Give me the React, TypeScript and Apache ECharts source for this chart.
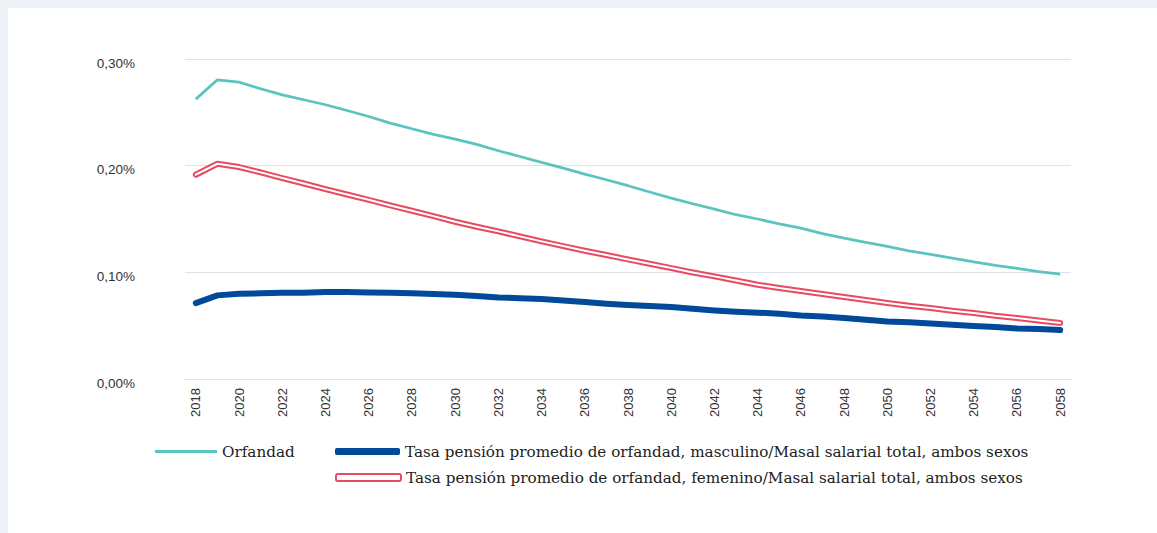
import React, { useEffect, useRef } from "react";
import * as echarts from "echarts";

const years: string[] = [];
for (let y = 2018; y <= 2058; y++) years.push(String(y));

const orfandad = [
  0.2624, 0.2805, 0.2783, 0.2721, 0.2664, 0.2618, 0.2571, 0.2517, 0.2461, 0.2399,
  0.2346, 0.2293, 0.2249, 0.2199, 0.2140, 0.2086, 0.2030, 0.1977, 0.1921, 0.1868,
  0.1812, 0.1753, 0.1696, 0.1643, 0.1593, 0.1540, 0.1500, 0.1455, 0.1415, 0.1362,
  0.1321, 0.1281, 0.1243, 0.1202, 0.1168, 0.1134, 0.1097, 0.1065, 0.1037, 0.1006,
  0.0984,
];

const masculino = [
  0.0712, 0.0784, 0.0800, 0.0803, 0.0809, 0.0809, 0.0815, 0.0815, 0.0812, 0.0809,
  0.0803, 0.0797, 0.0790, 0.0779, 0.0765, 0.0758, 0.0750, 0.0737, 0.0722, 0.0706,
  0.0693, 0.0684, 0.0675, 0.0659, 0.0643, 0.0631, 0.0622, 0.0612, 0.0596, 0.0587,
  0.0572, 0.0556, 0.0540, 0.0531, 0.0521, 0.0509, 0.0497, 0.0487, 0.0474, 0.0469,
  0.0459,
];

const femenino = [
  0.1915, 0.2018, 0.1987, 0.1937, 0.1884, 0.1833, 0.1780, 0.1730, 0.1680, 0.1627,
  0.1577, 0.1527, 0.1474, 0.1427, 0.1384, 0.1337, 0.1290, 0.1246, 0.1202, 0.1162,
  0.1121, 0.1081, 0.1040, 0.0999, 0.0962, 0.0924, 0.0884, 0.0853, 0.0825, 0.0797,
  0.0768, 0.0740, 0.0712, 0.0687, 0.0665, 0.0640, 0.0619, 0.0593, 0.0572, 0.0549,
  0.0525,
];

const NAME_ORF = "Orfandad";
const NAME_MASC =
  "Tasa pensión promedio de orfandad, masculino/Masal salarial total, ambos sexos";
const NAME_FEM =
  "Tasa pensión promedio de orfandad, femenino/Masal salarial total, ambos sexos";

const TEAL = "#5bc4c1";
const BLUE = "#004a98";
const RED = "#e84a5f";

export default function App() {
  const ref = useRef<HTMLDivElement>(null);

  useEffect(() => {
    if (!ref.current) return;
    const chart = echarts.init(ref.current, undefined, { renderer: "svg" });
    const legendText = {
      fontFamily: "DejaVu Serif",
      fontSize: 15.2,
      color: "#222",
    };
    chart.setOption({
      animation: false,
      backgroundColor: "#ffffff",
      grid: { left: 177, right: 86, top: 51, bottom: 154, containLabel: false },
      legend: [
        {
          data: [{ name: NAME_ORF, icon: "rect", itemStyle: { color: TEAL } }],
          left: 147,
          top: 436,
          padding: 0,
          itemWidth: 62,
          itemHeight: 3,
          textStyle: legendText,
          selectedMode: false,
        },
        {
          data: [
            { name: NAME_MASC, icon: "roundRect", itemStyle: { color: BLUE } },
          ],
          left: 327,
          top: 436,
          padding: 0,
          itemWidth: 65,
          itemHeight: 7,
          textStyle: legendText,
          selectedMode: false,
        },
        {
          data: [
            {
              name: NAME_FEM,
              icon: "roundRect",
              itemStyle: { color: "#ffffff", borderColor: RED, borderWidth: 2 },
            },
          ],
          left: 327,
          top: 462,
          padding: 0,
          itemWidth: 65,
          itemHeight: 7,
          textStyle: legendText,
          selectedMode: false,
        },
      ],
      xAxis: {
        type: "category",
        data: years,
        boundaryGap: true,
        axisLine: { show: true, lineStyle: { color: "#dde3ec", width: 1 } },
        axisTick: { show: false },
        axisLabel: {
          rotate: 90,
          interval: 1,
          margin: 9,
          fontFamily: "Liberation Sans",
          fontSize: 13,
          color: "#333",
        },
      },
      yAxis: {
        type: "value",
        min: 0,
        max: 0.3,
        interval: 0.1,
        axisLine: { show: false },
        axisTick: { show: false },
        splitLine: { lineStyle: { color: "#dde3ec", width: 1 } },
        axisLabel: {
          margin: 50,
          fontFamily: "Liberation Sans",
          fontSize: 13.5,
          color: "#333",
          verticalAlign: "top",
          lineHeight: 8,
          formatter: (v: number) => v.toFixed(2).replace(".", ",") + "%",
        },
      },
      series: [
        {
          name: NAME_ORF,
          type: "line",
          data: orfandad,
          symbol: "none",
          lineStyle: { color: TEAL, width: 2.8 },
          itemStyle: { color: TEAL },
        },
        {
          name: NAME_MASC,
          type: "line",
          data: masculino,
          symbol: "none",
          lineStyle: { color: BLUE, width: 6, cap: "round", join: "round" },
          itemStyle: { color: BLUE },
        },
        {
          name: NAME_FEM,
          type: "line",
          data: femenino,
          symbol: "none",
          lineStyle: { color: RED, width: 6, cap: "round", join: "round" },
          itemStyle: { color: RED },
        },
        {
          name: "femenino-inner",
          type: "line",
          data: femenino,
          symbol: "none",
          silent: true,
          lineStyle: { color: "#ffffff", width: 2, cap: "round", join: "round" },
          itemStyle: { color: "#ffffff" },
        },
      ],
    });
    return () => chart.dispose();
  }, []);

  return (
    <div
      style={{
        position: "fixed",
        left: 0,
        top: 0,
        width: 1157,
        height: 533,
        background: "#eef2f6",
      }}
    >
      <div
        ref={ref}
        style={{
          position: "absolute",
          left: 8,
          top: 8,
          width: 1149,
          height: 525,
          background: "#ffffff",
        }}
      />
    </div>
  );
}
